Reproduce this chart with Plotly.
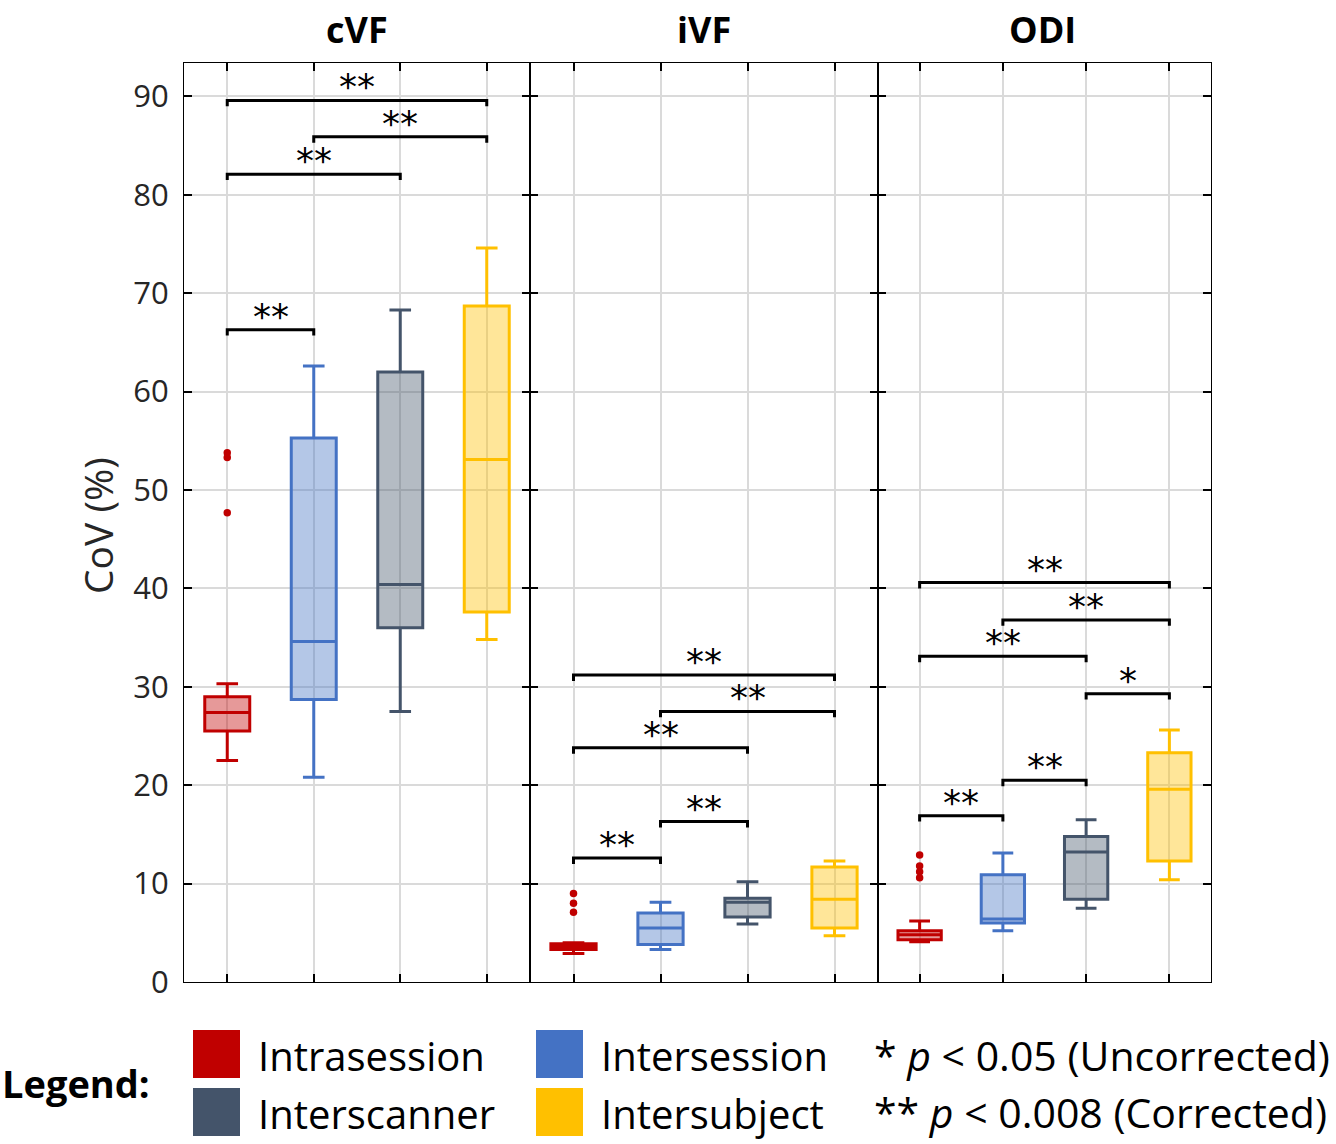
import plotly.graph_objects as go
from plotly.subplots import make_subplots

# ---- data ----
panels = ["cVF", "iVF", "ODI"]
groups = ["Intrasession", "Intersession", "Interscanner", "Intersubject"]
positions = [1, 2, 3, 4]

cvf_lower = [22.5, 20.8, 27.5, 34.8]
cvf_q1 = [25.5, 28.7, 36.0, 37.6]
cvf_median = [27.4, 34.6, 40.4, 53.1]
cvf_q3 = [29.0, 55.3, 62.0, 68.7]
cvf_upper = [30.3, 62.6, 68.3, 74.6]
cvf_outliers = [53.3, 53.8, 47.7]

ivf_lower = [2.9, 3.3, 5.9, 4.7]
ivf_q1 = [3.3, 3.8, 6.6, 5.5]
ivf_median = [3.6, 5.5, 8.1, 8.4]
ivf_q3 = [3.9, 7.0, 8.5, 11.7]
ivf_upper = [4.0, 8.1, 10.2, 12.3]
ivf_outliers = [9.0, 8.0, 7.1]

odi_lower = [4.1, 5.2, 7.5, 10.4]
odi_q1 = [4.3, 6.0, 8.4, 12.3]
odi_median = [4.8, 6.4, 13.2, 19.6]
odi_q3 = [5.2, 10.9, 14.8, 23.3]
odi_upper = [6.2, 13.1, 16.5, 25.6]
odi_outliers = [12.9, 11.8, 11.2, 10.6]

# significance brackets: (group a, group b, height, label)
cvf_sig = [(1, 4, 89.6, "**"), (2, 4, 85.9, "**"), (1, 3, 82.1, "**"), (1, 2, 66.3, "**")]
ivf_sig = [(1, 4, 31.2, "**"), (2, 4, 27.5, "**"), (1, 3, 23.8, "**"),
           (2, 3, 16.3, "**"), (1, 2, 12.6, "**")]
odi_sig = [(1, 4, 40.6, "**"), (2, 4, 36.8, "**"), (1, 3, 33.1, "**"), (3, 4, 29.3, "*"),
           (2, 3, 20.5, "**"), (1, 2, 16.9, "**")]

colors = ["#C00000", "#4472C4", "#44546A", "#FFC000"]
fills = ["rgba(192,0,0,0.4)", "rgba(68,114,196,0.4)", "rgba(68,84,106,0.4)", "rgba(255,192,0,0.4)"]

stats = [
    (cvf_lower, cvf_q1, cvf_median, cvf_q3, cvf_upper, cvf_outliers, cvf_sig),
    (ivf_lower, ivf_q1, ivf_median, ivf_q3, ivf_upper, ivf_outliers, ivf_sig),
    (odi_lower, odi_q1, odi_median, odi_q3, odi_upper, odi_outliers, odi_sig),
]

# ---- layout helpers: plot area in pixels ----
W, H = 1336, 1144
L, R, T, B = 184, 1211, 63, 982


def px(x):
    return (x - L) / (R - L)


def py(y):
    return (B - y) / (B - T)


FONT = "Open Sans"

fig = make_subplots(rows=1, cols=3, shared_yaxes=True, horizontal_spacing=0,
                    column_widths=[346, 348, 333])

for c, (lo, q1, med, q3, up, outl, sig) in enumerate(stats, start=1):
    xr = "x" if c == 1 else f"x{c}"
    yr = "y" if c == 1 else f"y{c}"
    for i in range(4):
        fig.add_trace(go.Box(
            x=[positions[i]], q1=[q1[i]], median=[med[i]], q3=[q3[i]],
            lowerfence=[lo[i]], upperfence=[up[i]],
            width=0.52, whiskerwidth=0.48,
            fillcolor=fills[i], line=dict(color=colors[i], width=3),
            boxpoints=False, showlegend=False, hoverinfo="skip"),
            row=1, col=c)
    fig.add_trace(go.Scatter(
        x=[positions[0]] * len(outl), y=outl, mode="markers",
        marker=dict(color=colors[0], size=7.5), showlegend=False),
        row=1, col=c)
    for a, b, h, lab in sig:
        fig.add_trace(go.Scatter(
            x=[a, a, b, b], y=[h - 0.6, h, h, h - 0.6], mode="lines",
            line=dict(color="black", width=3), showlegend=False, hoverinfo="skip"),
            row=1, col=c)
        fig.add_annotation(x=(a + b) / 2, y=h, text=lab, showarrow=False,
                           xref=xr, yref=yr, yanchor="bottom", yshift=-9,
                           font=dict(family="DejaVu Sans", size=36, color="black"))

for c in range(1, 4):
    fig.update_xaxes(range=[0.5, 4.5], tickvals=positions, showticklabels=False,
                     ticks="inside", ticklen=8, tickwidth=2, tickcolor="black",
                     showline=True, linecolor="black", linewidth=1.3, mirror="ticks",
                     showgrid=True, gridcolor="#dadada", gridwidth=1.5, zeroline=False,
                     row=1, col=c)
    fig.update_yaxes(range=[0, 93.4], tickvals=list(range(0, 100, 10)),
                     showticklabels=(c == 1),
                     ticks="inside", ticklen=8, tickwidth=2, tickcolor="black",
                     showline=True, linecolor="black", linewidth=1.3, mirror="ticks",
                     showgrid=True, gridcolor="#dadada", gridwidth=1.5, zeroline=False,
                     ticklabelstandoff=8,
                     tickfont=dict(family=FONT, size=31, color="#262626"),
                     row=1, col=c)

# panel titles
title_x = [357, 704, 1042]
for name, tx in zip(panels, title_x):
    fig.add_annotation(x=px(tx), y=py(3), xref="paper", yref="paper", text=f"<b>{name}</b>",
                       xanchor="center", yanchor="top", showarrow=False,
                       font=dict(family=FONT, size=36, color="black"))

# y-axis title
fig.add_annotation(x=px(97), y=py(526), xref="paper", yref="paper", text="CoV (%)",
                   textangle=-90, xanchor="center", yanchor="middle", showarrow=False,
                   font=dict(family=FONT, size=39, color="#262626"))

# ---- custom legend ----
fig.add_annotation(x=px(0), y=py(1083), xref="paper", yref="paper", text="<b>Legend:</b>",
                   xanchor="left", yanchor="middle", showarrow=False,
                   font=dict(family=FONT, size=38, color="black"))
# top row: Intrasession, Intersession; bottom row: Interscanner, Intersubject
legend_pos = [(193, 1030), (536, 1030), (193, 1088), (536, 1088)]
for k, (lx, ly) in enumerate(legend_pos):
    fig.add_shape(type="rect", xref="paper", yref="paper",
                  x0=px(lx), x1=px(lx + 47), y0=py(ly), y1=py(ly + 48),
                  fillcolor=colors[k], line=dict(width=0))
    fig.add_annotation(x=px(lx + 63), y=py(ly + 25), xref="paper", yref="paper",
                       text=groups[k], xanchor="left", yanchor="middle", showarrow=False,
                       font=dict(family=FONT, size=40, color="black"))

fig.add_annotation(x=px(872), y=py(1055), xref="paper", yref="paper",
                   text="* <i>p</i> < 0.05 (Uncorrected)", xanchor="left", yanchor="middle",
                   showarrow=False, font=dict(family=FONT, size=41, color="black"))
fig.add_annotation(x=px(872), y=py(1112), xref="paper", yref="paper",
                   text="** <i>p</i> < 0.008 (Corrected)", xanchor="left", yanchor="middle",
                   showarrow=False, font=dict(family=FONT, size=41, color="black"))

fig.update_layout(width=W, height=H, plot_bgcolor="white", paper_bgcolor="white",
                  margin=dict(l=L, r=W - R, t=T, b=H - B), showlegend=False)

# drop the page's default body margin so the figure sits at the window origin
fig.write_html("out.html", config={"displayModeBar": False},
               post_script="document.body.style.margin='0';")
